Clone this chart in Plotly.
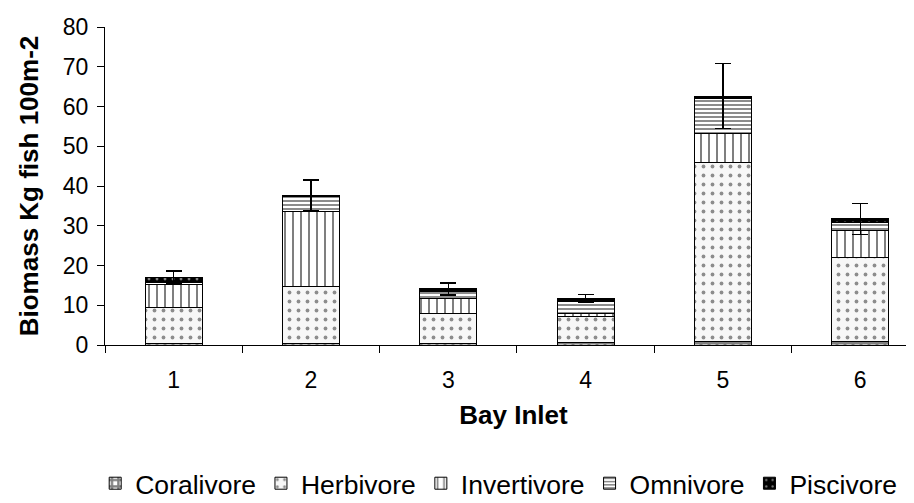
import plotly.graph_objects as go

bays = ["1", "2", "3", "4", "5", "6"]
coralivore = [0.5, 0.5, 0.5, 0.7, 1.0, 1.0]
herbivore = [9.0, 14.3, 7.5, 6.5, 45.0, 20.9]
invertivore = [5.6, 18.9, 3.8, 0.7, 7.1, 6.8]
omnivore = [0.5, 3.6, 1.6, 3.1, 8.9, 2.2]
piscivore = [1.5, 0.4, 0.7, 0.8, 0.6, 0.8]
total_error = [1.5, 3.8, 1.5, 1.0, 8.2, 3.9]

y_ticks = [0, 10, 20, 30, 40, 50, 60, 70, 80]

FONT = "Liberation Sans, Arial, sans-serif"
line = dict(color="black", width=1)

fig = go.Figure()
fig.add_bar(name="Coralivore", x=bays, y=coralivore,
            marker=dict(color="white", line=line,
                        pattern=dict(shape="+", fgcolor="black", bgcolor="white", size=8, solidity=0.6)))
fig.add_bar(name="Herbivore", x=bays, y=herbivore,
            marker=dict(color="#f7f7f7", line=line,
                        pattern=dict(shape=".", fgcolor="#222222", bgcolor="#f7f7f7", size=9, solidity=0.14)))
fig.add_bar(name="Invertivore", x=bays, y=invertivore,
            marker=dict(color="white", line=line,
                        pattern=dict(shape="|", fgcolor="black", bgcolor="white", size=8, solidity=0.25)))
fig.add_bar(name="Omnivore", x=bays, y=omnivore,
            marker=dict(color="white", line=line,
                        pattern=dict(shape="-", fgcolor="black", bgcolor="white", size=4, solidity=0.45)))
fig.add_bar(name="Piscivore", x=bays, y=piscivore,
            marker=dict(color="black", line=line,
                        pattern=dict(shape=".", fgcolor="white", bgcolor="black", size=8, solidity=0.1)),
            error_y=dict(type="data", array=total_error, visible=True,
                         color="black", thickness=1.2, width=8))

fig.update_layout(
    width=914, height=503,
    barmode="stack", bargap=0.585,
    paper_bgcolor="white", plot_bgcolor="white",
    margin=dict(l=97, r=0, t=19, b=166, autoexpand=False),
    font=dict(family=FONT, size=23, color="black"),
    showlegend=True,
    legend=dict(orientation="h", x=-0.012, xanchor="left", y=-0.36, yanchor="top",
                font=dict(family=FONT, size=26.5, color="black"),
                traceorder="normal", itemwidth=30,
                bgcolor="rgba(0,0,0,0)"),
)
fig.update_xaxes(
    type="category", range=[-0.5, 5.45],
    tickson="boundaries", ticks="outside", ticklen=7, tickcolor="black",
    showline=True, linecolor="black", linewidth=1.2,
    showgrid=False, zeroline=False,
    tickfont=dict(family=FONT, size=23),
    ticklabelstandoff=14,
    title=dict(text="<b>Bay Inlet</b>", font=dict(family=FONT, size=26), standoff=14),
)
fig.update_yaxes(
    range=[0, 80], tickvals=y_ticks,
    ticks="outside", ticklen=7, tickcolor="black",
    showline=True, linecolor="black", linewidth=1.2,
    showgrid=False, zeroline=False,
    tickfont=dict(family=FONT, size=23),
    ticklabelstandoff=4,
    title=dict(text="<b>Biomass Kg fish 100m-2</b>", font=dict(family=FONT, size=26), standoff=16),
)

fig.write_html("out.html")
